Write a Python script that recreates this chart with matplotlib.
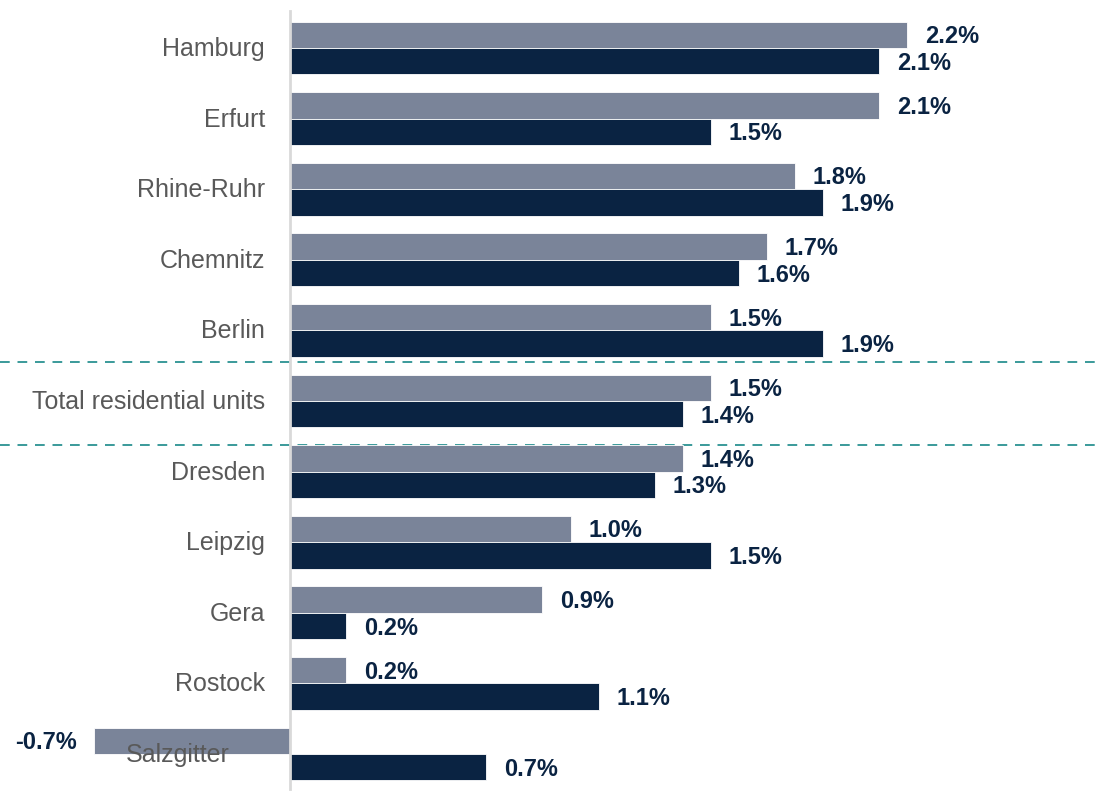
import matplotlib
matplotlib.use('Agg')
import matplotlib.pyplot as plt
import numpy as np

# data (growth in %)
cities = ['Hamburg', 'Erfurt', 'Rhine-Ruhr', 'Chemnitz', 'Berlin',
          'Total residential units', 'Dresden', 'Leipzig', 'Gera', 'Rostock', 'Salzgitter']
series_grey = [2.2, 2.1, 1.8, 1.7, 1.5, 1.5, 1.4, 1.0, 0.9, 0.2, -0.7]
series_navy = [2.1, 1.5, 1.9, 1.6, 1.9, 1.4, 1.3, 1.5, 0.2, 1.1, 0.7]

GREY = '#7a8499'
NAVY = '#0a2342'
LABEL = '#595959'
TEAL = '#3a9a9a'
FONT = ['Liberation Sans', 'DejaVu Sans']

fig = plt.figure(figsize=(11.01, 8.03), dpi=100)
ax = fig.add_axes([0, 0, 1, 1])

y = np.arange(len(cities))
h = 0.375

ax.barh(y - h / 2, series_grey, height=h, color=GREY, edgecolor='white', linewidth=0.6, zorder=2)
ax.barh(y + h / 2, series_navy, height=h, color=NAVY, edgecolor='white', linewidth=0.6, zorder=2)

# value labels
for vals, off in [(series_grey, -h / 2), (series_navy, h / 2)]:
    for i, v in enumerate(vals):
        dx = 18 if v >= 0 else -17
        ax.annotate(f'{v:.1f}%', (v, i + off), xytext=(dx, -1), textcoords='offset pixels',
                    ha='left' if v >= 0 else 'right', va='center',
                    fontsize=17, fontweight='bold', color=NAVY, family=FONT)

# category labels (Salzgitter sits a bit further left, over the negative bar)
for i, c in enumerate(cities):
    shift = -35 if c == 'Salzgitter' else 0
    ax.annotate(c, (0, i), xytext=(-25 + shift, 0), textcoords='offset pixels',
                ha='right', va='center', fontsize=18, color=LABEL, family=FONT, zorder=5)

# zero axis
ax.plot([0, 0], [-0.52, 10.5], color='#d9d9d9', lw=2, zorder=3)

# dashed separators around the total
for yy in [4.45, 5.62]:
    ax.axhline(yy, color=TEAL, lw=1.4, ls=(0, (5, 4)), zorder=1)

ax.set_xlim(-290 / 280.5, (1101 - 290) / 280.5)
ax.set_ylim((803 - 49) / 70.6, -49 / 70.6)
ax.axis('off')

fig.savefig('out.png', dpi=100)
